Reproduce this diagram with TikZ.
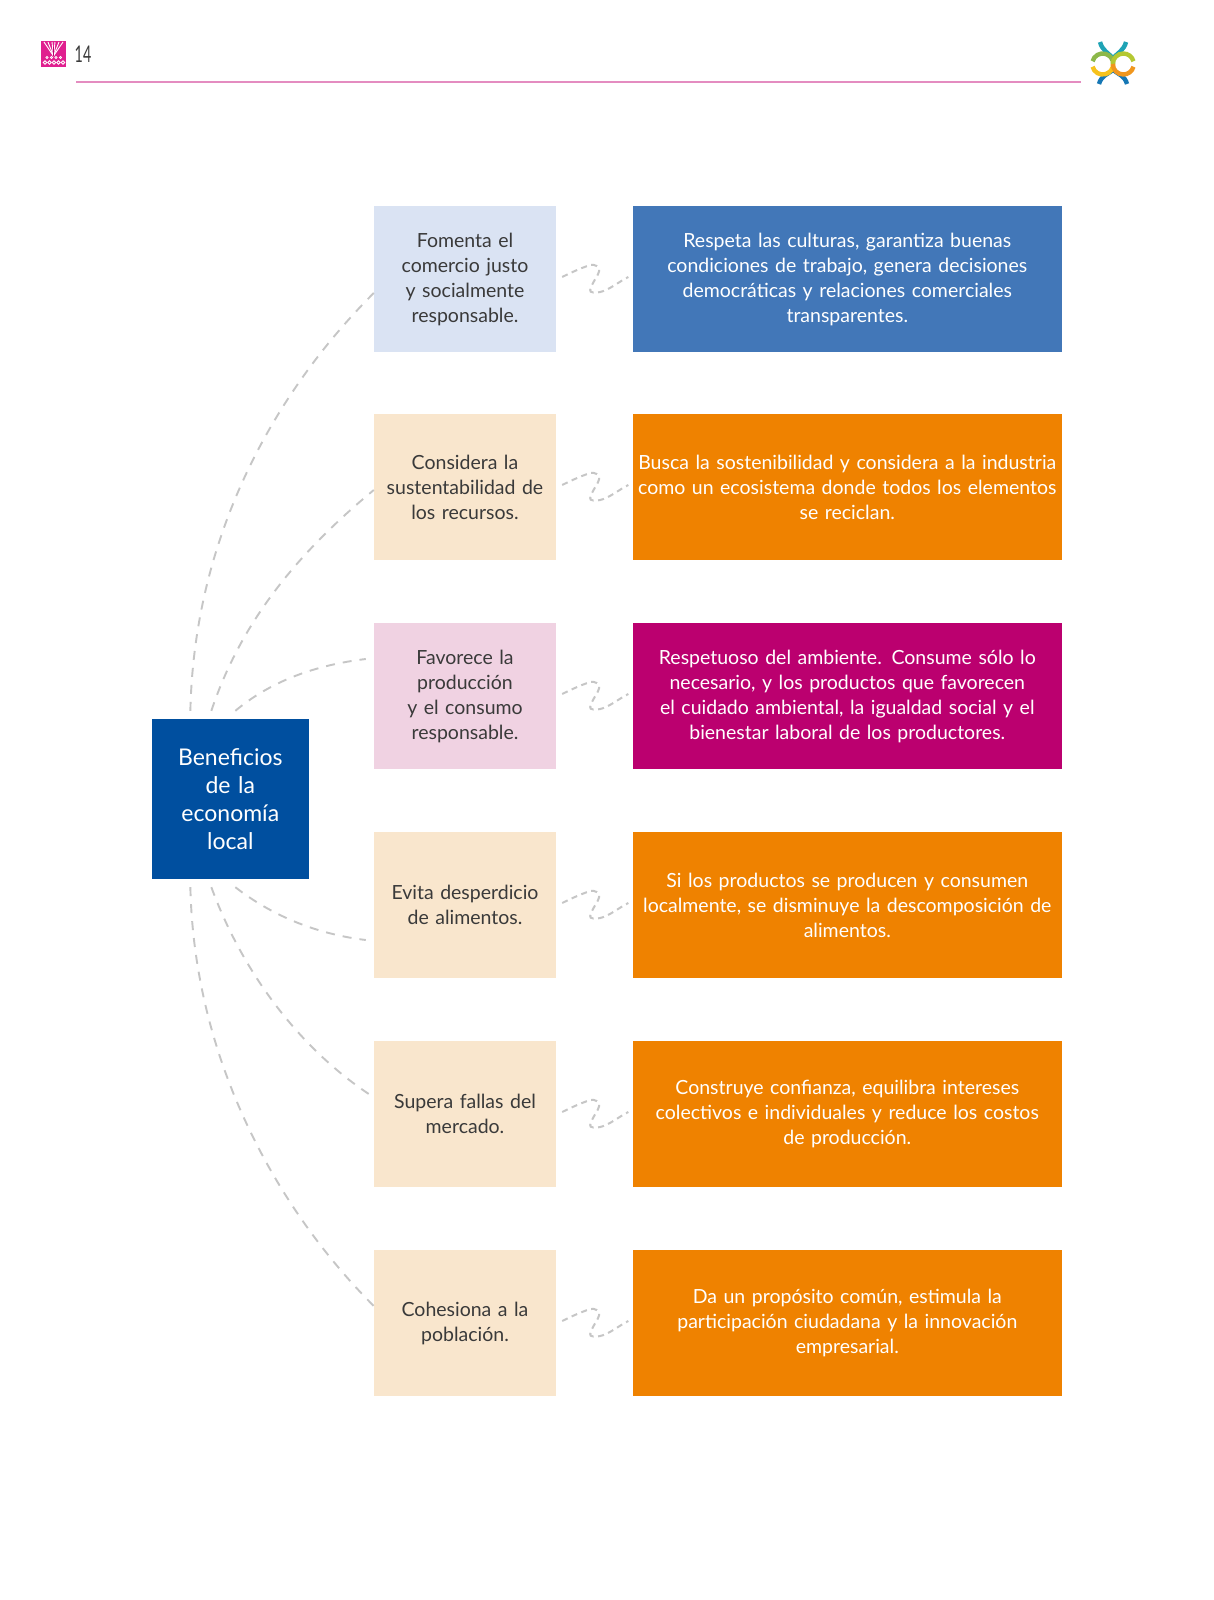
\documentclass[tikz,border=0pt]{standalone}
\usepackage{fontspec}
\setmainfont[WordSpace=0.7]{Lato}
\definecolor{cBlue}{HTML}{4277B8}
\definecolor{cLight}{HTML}{DAE3F3}
\definecolor{cCream}{HTML}{F9E6CD}
\definecolor{cPink}{HTML}{F0D2E2}
\definecolor{cOrange}{HTML}{EF8200}
\definecolor{cMag}{HTML}{BB006F}
\definecolor{cRoot}{HTML}{004F9F}
\definecolor{cText}{HTML}{3A3A3A}
\definecolor{cDash}{HTML}{C6C6C6}
\definecolor{cRule}{HTML}{E48CC0}
\definecolor{cIcon}{HTML}{E0208F}
\definecolor{lgTeal}{HTML}{1FA3B5}
\definecolor{lgBlue}{HTML}{1577B5}
\definecolor{lgGreen}{HTML}{8CB84A}
\definecolor{lgYellow}{HTML}{F6C21C}
\definecolor{lgLime}{HTML}{B4C832}
\definecolor{lgOrange}{HTML}{F0961E}
\tikzset{
  x=1pt,y=-1pt,
  leftbox/.style={minimum width=182pt,minimum height=146pt,inner sep=2pt,align=center,text width=172pt,text=cText,font=\fontsize{19.5}{25}\selectfont},
  rightbox/.style={minimum width=429.5pt,minimum height=146pt,inner sep=2pt,align=center,text width=420pt,text=white,font=\fontsize{19.5}{25}\selectfont},
  rootbox/.style={fill=cRoot,minimum width=157.5pt,minimum height=160pt,inner sep=2pt,align=center,text width=150pt,text=white,font=\fontsize{23}{28.2}\selectfont},
  dashline/.style={draw=cDash,line width=1.9pt,dash pattern=on 9pt off 8pt},
  squig/.style={draw=cDash,line width=2pt,dash pattern=on 6pt off 4.5pt},
  logo/.style={line width=4.4pt}
}
\begin{document}
\begin{tikzpicture}
\useasboundingbox (0,0) rectangle (1214,1600);
\fill[white] (0,0) rectangle (1214,1600);
% header
\node[fill=cIcon,minimum width=25pt,minimum height=26pt,inner sep=0pt] (icon) at (53.5,54) {};
\foreach \a/\b in {44/42,48/42,52/42,55/42,59/42,63/42}{\draw[white,line width=.9pt] (\a,\b) -- (53.5,56);}
\foreach \a in {45,49.5,54,58.5,63}{\draw[white,line width=.9pt] (\a,62.5) circle (1.7pt);}
\foreach \a in {47,51.5,56,60.5}{\draw[white,line width=.7pt] (\a,57.5) circle (1.2pt);}
\draw[cMag,line width=1.6pt] (53.5,47) -- (53.5,56);
\node[text=cText,inner sep=0pt,xscale=0.62,font=\fontsize{23}{23}\selectfont] (page) at (83,54) {14};
\coordinate (ruleA) at (76,82);
\coordinate (ruleB) at (1081,82);
\draw[cRule,line width=2pt] (ruleA) -- (ruleB);
% logo
\coordinate (lgL) at (1102.7,64);
\coordinate (lgR) at (1123.3,64);
\draw[logo,lgTeal] (1100,42) .. controls (1102,50) and (1108,53) .. (1113,58);
\draw[logo,lgTeal] (1126,42) .. controls (1124,50) and (1118,53) .. (1113,58);
\draw[logo,lgBlue] (1099,84) .. controls (1101,76) and (1108,74) .. (1113,70);
\draw[logo,lgBlue] (1127,84) .. controls (1125,76) and (1118,74) .. (1113,70);
\draw[logo,lgGreen] ([shift={(165:10.5pt)}]lgL) arc[start angle=165,end angle=0,radius=10.5pt];
\draw[logo,lgYellow] ([shift={(195:10.5pt)}]lgL) arc[start angle=195,end angle=360,radius=10.5pt];
\draw[logo,lgLime] ([shift={(180:10.5pt)}]lgR) arc[start angle=180,end angle=15,radius=10.5pt];
\draw[logo,lgOrange] ([shift={(180:10.5pt)}]lgR) arc[start angle=180,end angle=345,radius=10.5pt];
% root
\node[rootbox] (root) at (230.3,799) {Beneficios\\de la\\economía\\local};
% left column
\node[leftbox,fill=cLight] (b1) at (465,279) {Fomenta el\\comercio justo\\y socialmente\\responsable.};
\node[leftbox,fill=cCream] (b2) at (465,487) {Considera la\\sustentabilidad de\\los recursos.};
\node[leftbox,fill=cPink] (b3) at (465,696) {Favorece la\\producción\\y el consumo\\responsable.};
\node[leftbox,fill=cCream] (b4) at (465,905) {Evita desperdicio\\de alimentos.};
\node[leftbox,fill=cCream] (b5) at (465,1114) {Supera fallas del\\mercado.};
\node[leftbox,fill=cCream] (b6) at (465,1323) {Cohesiona a la\\población.};
% right column
\node[rightbox,fill=cBlue] (r1) at (847.3,279) {Respeta las culturas, garantiza buenas\\condiciones de trabajo, genera decisiones\\democráticas y relaciones comerciales\\transparentes.};
\node[rightbox,fill=cOrange] (r2) at (847.3,487) {Busca la sostenibilidad y considera a la industria\\como un ecosistema donde todos los elementos\\se reciclan.};
\node[rightbox,fill=cMag] (r3) at (847.3,696) {Respetuoso del ambiente. Consume sólo lo\\necesario, y los productos que favorecen\\el cuidado ambiental, la igualdad social y el\\bienestar laboral de los productores.};
\node[rightbox,fill=cOrange] (r4) at (847.3,905) {Si los productos se producen y consumen\\localmente, se disminuye la descomposición de\\alimentos.};
\node[rightbox,fill=cOrange] (r5) at (847.3,1114) {Construye confianza, equilibra intereses\\colectivos e individuales y reduce los costos\\de producción.};
\node[rightbox,fill=cOrange] (r6) at (847.3,1323) {Da un propósito común, estimula la\\participación ciudadana y la innovación\\empresarial.};
% root connectors
\draw[dashline] ([xshift=39pt,yshift=8pt]root.north west) .. controls +(4,-180) and +(-95,95) .. ([yshift=-14pt]b1.west);
\draw[dashline] ([xshift=60pt,yshift=8pt]root.north west) .. controls +(30,-90) and +(-75,62) .. ([yshift=-3pt]b2.west);
\draw[dashline] ([xshift=84pt,yshift=8pt]root.north west) .. controls +(36,-30) and +(-50,6) .. ([xshift=-8pt,yshift=37pt]b3.west);
\draw[dashline] ([xshift=84pt,yshift=-8pt]root.south west) .. controls +(36,28) and +(-50,-6) .. ([xshift=-8pt,yshift=-35pt]b4.west);
\draw[dashline] ([xshift=60pt,yshift=-8pt]root.south west) .. controls +(30,82) and +(-72,-48) .. ([xshift=-5pt,yshift=20pt]b5.west);
\draw[dashline] ([xshift=39pt,yshift=-8pt]root.south west) .. controls +(4,175) and +(-95,-95) .. ([yshift=17pt]b6.west);
% squiggles
\foreach \i in {1,...,6}{
  \draw[squig] ([xshift=6pt,yshift=2pt]b\i.east) .. controls +(10,-5) and +(-9,3) .. ++(28,-12)
    .. controls +(5,-1) and +(1,-4) .. ++(9,6)
    .. controls +(-1,5) and +(2,-8) .. ++(-9,19)
    .. controls +(-1,3) and +(-4,1) .. ++(10,2)
    .. controls +(9,-2) and +(-10,5) .. ([xshift=-4pt,yshift=2pt]r\i.west);
}
\end{tikzpicture}
\end{document}
